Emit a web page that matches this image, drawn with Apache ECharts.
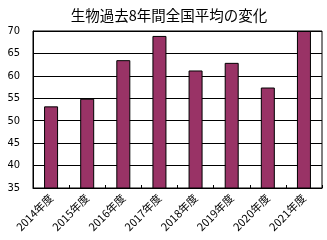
<!DOCTYPE html>
<html><head><meta charset="utf-8">
<script src="https://cdn.jsdelivr.net/npm/echarts@6/dist/echarts.min.js"></script>
<style>html,body{margin:0;padding:0;background:#fff}#c{width:327px;height:240px}</style>
</head><body><div id="c"></div>
<script>
var titleText = '生物過去8年間全国平均の変化';
var categories = ['2014年度','2015年度','2016年度','2017年度','2018年度','2019年度','2020年度','2021年度'];
var values = [53.2, 54.9, 63.5, 68.9, 61.2, 62.9, 57.4, 70];
var yMin = 35, yMax = 70, yStep = 5;
var font = '"Noto Sans CJK JP", sans-serif';
var chart = echarts.init(document.getElementById('c'), null, {renderer:'canvas'});
chart.setOption({
  animation:false,
  backgroundColor:'#fff',
  title:{text:titleText,left:164,textAlign:'center',top:3,textStyle:{fontFamily:font,fontSize:14.5,fontWeight:'normal',color:'#000'}},
  grid:{left:33,right:5,top:31,bottom:52,show:true,borderColor:'#000',borderWidth:1,backgroundColor:'transparent'},
  xAxis:{type:'category',data:categories,boundaryGap:true,
    axisLine:{lineStyle:{color:'#000',width:1}},
    axisTick:{show:true,inside:true,length:3,alignWithLabel:false,lineStyle:{color:'#000'}},
    axisLabel:{rotate:45,fontFamily:font,fontSize:11,color:'#000',margin:8,interval:0}},
  yAxis:{type:'value',min:yMin,max:yMax,interval:yStep,
    axisLine:{show:true,lineStyle:{color:'#000',width:1}},
    axisTick:{show:false},
    splitLine:{show:true,lineStyle:{color:'#000',width:1}},
    axisLabel:{fontFamily:'"Liberation Sans Narrow","DejaVu Sans Condensed",sans-serif',fontSize:11,color:'#000',margin:13}},
  series:[{type:'bar',data:values,barWidth:14,
    itemStyle:{color:'#993366',borderColor:'#000',borderWidth:1}}]
});
</script></body></html>
